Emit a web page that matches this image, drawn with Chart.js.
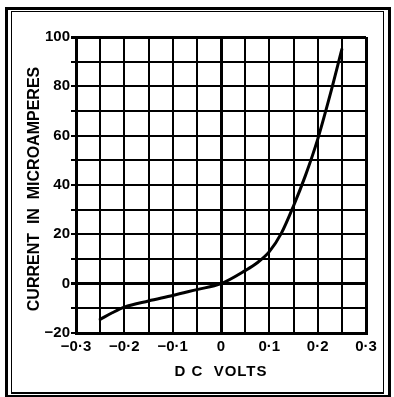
<!DOCTYPE html>
<html>
<head>
<meta charset="utf-8">
<script src="https://cdn.jsdelivr.net/npm/chart.js@4.4.1/dist/chart.umd.min.js"></script>
<style>
  html, body { margin: 0; padding: 0; background: #fff; }
  #wrap { position: relative; width: 394px; height: 397px; }
  canvas { position: absolute; left: 0; top: 0; }
  .frame { position: absolute; box-sizing: border-box; border: solid #000; pointer-events: none; }
  #outer { left: 5px; top: 7px; width: 386px; height: 390px; border-width: 3px 3px 2px 3px; }
  #inner { left: 11px; top: 11px; width: 373px; height: 383px; border-width: 1.5px 1.5px 2px 1.5px; }
</style>
</head>
<body>
<div id="wrap">
  <canvas id="chart" width="394" height="397"></canvas>
  <div class="frame" id="outer"></div>
  <div class="frame" id="inner"></div>
</div>
<script>
// Diode characteristic: DC volts against current in microamperes
const voltage = [-0.25, -0.225, -0.2, -0.15, -0.1, -0.05, 0, 0.05, 0.075, 0.1, 0.125, 0.15, 0.175, 0.2, 0.225, 0.25];
const current = [-14.5, -11.8, -9.5, -7, -4.8, -2.4, 0, 5.3, 8.5, 13, 20.5, 31.5, 44, 58.5, 76, 95];

const xTitle = 'D C  VOLTS';
const yTitle = 'CURRENT  IN  MICROAMPERES';

const MINUS = '\u2212';
function voltLabel(v) {
  const tenths = Math.round(v * 10);
  if (Math.abs(v * 10 - tenths) > 1e-6) return '';
  if (tenths === 0) return '0';
  return (tenths < 0 ? MINUS : '') + '0\u00B7' + Math.abs(tenths);
}
function currentLabel(v) {
  const r = Math.round(v);
  if (r % 20 !== 0) return '';
  return (r < 0 ? MINUS : '') + Math.abs(r);
}

const tickFont = { family: '"Liberation Sans", Arial, sans-serif', size: 15, weight: 'bold' };

// Axis titles
const axisTitles = {
  id: 'axisTitles',
  afterDraw(chart) {
    const { ctx, chartArea } = chart;
    ctx.save();
    ctx.fillStyle = '#000';
    ctx.textAlign = 'center';
    ctx.textBaseline = 'middle';
    ctx.font = 'bold 15px "Liberation Sans", Arial, sans-serif';
    ctx.letterSpacing = '1px';
    ctx.fillText(xTitle, (chartArea.left + chartArea.right) / 2, 372);
    ctx.translate(35, (chartArea.top + chartArea.bottom) / 2 + 4);
    ctx.rotate(-Math.PI / 2);
    ctx.font = 'bold 16px "Liberation Sans", Arial, sans-serif';
    ctx.letterSpacing = '0px';
    ctx.fillText(yTitle, 0, 0);
    ctx.restore();
  }
};

new Chart(document.getElementById('chart'), {
  type: 'line',
  data: {
    datasets: [{
      data: voltage.map((v, i) => ({ x: v, y: current[i] })),
      borderColor: '#000',
      borderWidth: 3,
      pointRadius: 0,
      fill: false,
      cubicInterpolationMode: 'monotone',
      borderCapStyle: 'round'
    }]
  },
  options: {
    responsive: false,
    animation: false,
    layout: { padding: { top: 37, right: 28, left: 0, bottom: 0 } },
    plugins: { legend: { display: false }, tooltip: { enabled: false } },
    scales: {
      x: {
        type: 'linear',
        min: -0.3,
        max: 0.3,
        afterFit(scale) { scale.height = 64; },
        ticks: {
          stepSize: 0.05,
          autoSkip: false,
          maxRotation: 0,
          color: '#000',
          font: tickFont,
          padding: 5,
          callback: voltLabel
        },
        grid: {
          color: '#000',
          lineWidth: c => (Math.abs(c.tick.value) < 1e-9 || Math.abs(Math.abs(c.tick.value) - 0.3) < 1e-9) ? 3 : 2,
          drawTicks: false
        },
        border: { color: '#000', width: 3 }
      },
      y: {
        min: -20,
        max: 100,
        afterFit(scale) { scale.width = 76; },
        ticks: {
          stepSize: 10,
          autoSkip: false,
          color: '#000',
          font: tickFont,
          padding: 1,
          callback: currentLabel
        },
        grid: {
          color: '#000',
          lineWidth: c => (c.tick.value === 0 || c.tick.value === 100) ? 3 : 2,
          drawTicks: true,
          tickLength: 5
        },
        border: { color: '#000', width: 3 }
      }
    }
  },
  plugins: [axisTitles]
});
</script>
</body>
</html>
